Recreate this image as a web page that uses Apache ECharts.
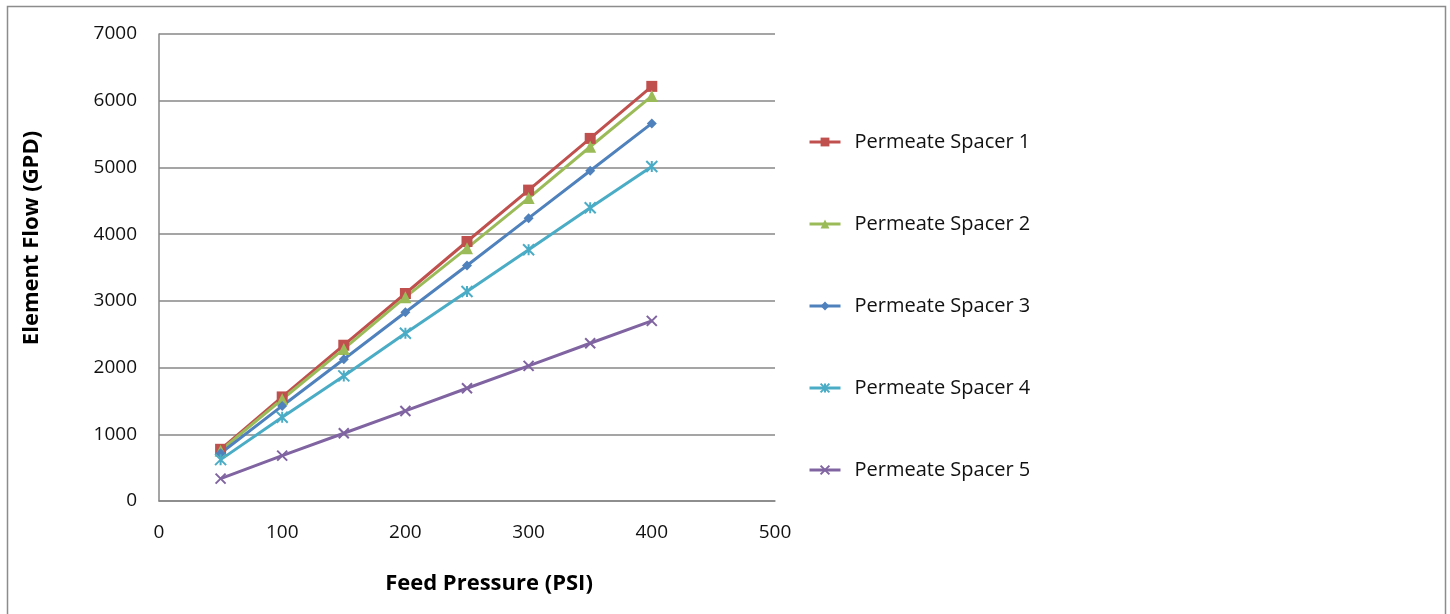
<!DOCTYPE html>
<html lang="en">
<head>
    <meta charset="UTF-8">
    <title>Element Flow vs Feed Pressure</title>
    <script src="https://cdn.jsdelivr.net/npm/echarts@6/dist/echarts.min.js"></script>
    <style>
        html, body { margin: 0; padding: 0; background: #fff; }
        #main { width: 1450px; height: 614px; }
    </style>
</head>
<body>
<div id="main"></div>
<script type="text/javascript">
    // feed pressure (PSI)
    var pressure = [50, 100, 150, 200, 250, 300, 350, 400];
    // element flow (GPD) per permeate spacer
    var spacer1 = [775, 1560, 2335, 3110, 3890, 4660, 5435, 6215];
    var spacer2 = [755, 1525, 2280, 3055, 3790, 4540, 5310, 6070];
    var spacer3 = [715, 1425, 2125, 2830, 3530, 4240, 4950, 5660];
    var spacer4 = [620, 1255, 1875, 2515, 3140, 3765, 4395, 5015];
    var spacer5 = [335, 680, 1015, 1350, 1690, 2025, 2365, 2700];
    var names = ['Permeate Spacer 1', 'Permeate Spacer 2', 'Permeate Spacer 3', 'Permeate Spacer 4', 'Permeate Spacer 5'];

    var font = '"Open Sans", sans-serif';
    var colors = ['#C0504D', '#9BBB59', '#4F81BD', '#4BACC6', '#8064A2'];
    var symbols = [
        'rect',
        'triangle',
        'diamond',
        'path://M0,0L10,10M10,0L0,10M5,0L5,10',
        'path://M0,0L10,10M10,0L0,10'
    ];
    var sizes = [11, 12, 10, 11, 10];

    function pairs(ys) {
        return pressure.map(function (x, i) { return [x, ys[i]]; });
    }

    var allData = [spacer1, spacer2, spacer3, spacer4, spacer5];

    var chart = echarts.init(document.getElementById('main'));
    chart.setOption({
        animation: false,
        color: colors,
        grid: { left: 159, right: 675, top: 34, bottom: 113 },
        graphic: [
            {
                type: 'rect',
                shape: { x: 7.5, y: 6.5, width: 1438, height: 640 },
                style: { fill: 'none', stroke: '#8c8c8c', lineWidth: 1.5 },
                silent: true
            },
            {
                type: 'text',
                x: 32, y: 238, rotation: Math.PI / 2,
                style: { text: 'Element Flow (GPD)', font: 'bold 22px ' + font, fill: '#000', align: 'center', verticalAlign: 'middle' }
            },
            {
                type: 'text',
                x: 489, y: 584,
                style: { text: 'Feed Pressure (PSI)', font: 'bold 22px ' + font, fill: '#000', align: 'center', verticalAlign: 'middle' }
            }
        ],
        legend: {
            orient: 'vertical',
            left: 803,
            top: 127,
            itemWidth: 31,
            itemHeight: 11,
            itemGap: 62,
            lineStyle: { width: 3 },
            textStyle: { fontFamily: font, fontSize: 20, lineHeight: 20, color: '#111', padding: [0, 0, 0, 9] },
            data: names
        },
        xAxis: {
            type: 'value',
            min: 0, max: 500, interval: 100,
            axisLine: { show: true, lineStyle: { color: '#878787', width: 1.5 } },
            axisTick: { show: false },
            axisLabel: { color: '#111', fontFamily: font, fontSize: 19, margin: 22, formatter: function (v) { return String(v); } },
            splitLine: { show: false }
        },
        yAxis: {
            type: 'value',
            min: 0, max: 7000, interval: 1000,
            axisLine: { show: true, lineStyle: { color: '#878787', width: 1.5 } },
            axisTick: { show: false },
            axisLabel: { color: '#111', fontFamily: font, fontSize: 19, margin: 22, formatter: function (v) { return String(v); } },
            splitLine: { lineStyle: { color: '#878787', width: 1.5 } }
        },
        series: names.map(function (n, i) {
            return {
                name: n,
                type: 'line',
                data: pairs(allData[i]),
                symbol: symbols[i],
                symbolSize: sizes[i],
                showSymbol: true,
                lineStyle: { width: 3, color: colors[i] },
                itemStyle: { color: colors[i], borderColor: colors[i], borderWidth: i >= 3 ? 2 : 0 }
            };
        })
    });
</script>
</body>
</html>
